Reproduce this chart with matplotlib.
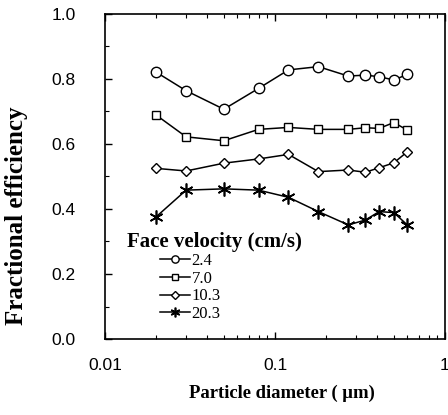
import matplotlib
matplotlib.use("Agg")
import matplotlib.pyplot as plt
import matplotlib.transforms as mtransforms
from matplotlib.ticker import FixedLocator, LogLocator, NullFormatter, MultipleLocator

diameter = [0.02, 0.03, 0.05, 0.08, 0.12, 0.18, 0.27, 0.34, 0.41, 0.50, 0.60]
eff_2_4 = [0.821, 0.764, 0.707, 0.771, 0.828, 0.838, 0.809, 0.812, 0.807, 0.797, 0.814]
eff_7_0 = [0.689, 0.622, 0.610, 0.645, 0.651, 0.645, 0.645, 0.650, 0.648, 0.666, 0.643]
eff_10_3 = [0.525, 0.517, 0.541, 0.554, 0.568, 0.515, 0.520, 0.513, 0.527, 0.542, 0.576]
eff_20_3 = [0.376, 0.458, 0.462, 0.458, 0.436, 0.392, 0.351, 0.366, 0.392, 0.389, 0.351]
series_labels = ["2.4", "7.0", "10.3", "20.3"]
x_ticks = [0.01, 0.1, 1]
x_tick_labels = ["0.01", "0.1", "1"]
y_ticks = [0.0, 0.2, 0.4, 0.6, 0.8, 1.0]

fig = plt.figure(figsize=(4.48, 4.15), dpi=100)
ax = fig.add_axes([105/448, 1 - 339/415, 340/448, 325/415])

styles = [
    dict(marker="o", ms=7.5, mew=1.0),
    dict(marker="s", ms=6, mew=1.0),
    dict(marker="D", ms=5.5, mew=1.0),
    dict(marker=(6, 2, 0), ms=10, mew=1.2),
]
series = [eff_2_4, eff_7_0, eff_10_3, eff_20_3]
for vals, lab, st in zip(series, series_labels, styles):
    ax.plot(diameter, vals, color="black", lw=1.1, mfc="white", mec="black",
            label=lab, **st)

ax.set_xscale("log")
ax.set_xlim(0.01, 1)
ax.set_ylim(0, 1)
ax.xaxis.set_major_locator(FixedLocator(x_ticks))
ax.set_xticklabels(x_tick_labels)
ax.xaxis.set_minor_locator(LogLocator(base=10, subs=range(2, 10)))
ax.xaxis.set_minor_formatter(NullFormatter())
ax.set_yticks(y_ticks)
ax.set_yticklabels([f"{v:.1f}" for v in y_ticks])
ax.yaxis.set_minor_locator(MultipleLocator(0.1))

for t in ax.get_xticklabels() + ax.get_yticklabels():
    t.set_fontfamily("Liberation Sans")
    t.set_fontsize(12.5)
ax.tick_params(which="both", direction="in", top=True, right=False)
ax.tick_params(which="major", length=5, width=1)
ax.tick_params(which="minor", length=3, width=0.8)
ax.tick_params(axis="y", pad=21)
ax.tick_params(axis="x", pad=14)
last = ax.get_xticklabels()[-1]
last.set_horizontalalignment("right")
last.set_transform(last.get_transform() +
                   mtransforms.ScaledTranslation(3/72, 0, fig.dpi_scale_trans))
for sp in ax.spines.values():
    sp.set_linewidth(1.2)

ax.set_xlabel("Particle diameter ( \u00b5m)", family="Liberation Serif",
              fontweight="bold", fontsize=13.4)
ax.set_ylabel("Fractional efficiency", family="Liberation Serif",
              fontweight="bold", fontsize=18)
ax.yaxis.set_label_coords(-0.225, 0.38)
ax.xaxis.set_label_coords(0.52, -0.14)

ax.text(22/340, 97/325, "Face velocity (cm/s)", transform=ax.transAxes,
        ha="left", va="center", family="Liberation Serif",
        fontweight="bold", fontsize=15)

leg = ax.legend(loc="upper left", bbox_to_anchor=(55/340, 86/325), frameon=False,
                markerscale=0.7, handlelength=1.8, handletextpad=0.1,
                labelspacing=0.1, borderpad=0, borderaxespad=0,
                prop=dict(family="Liberation Serif", size=12))

fig.savefig("out.png", dpi=100)
